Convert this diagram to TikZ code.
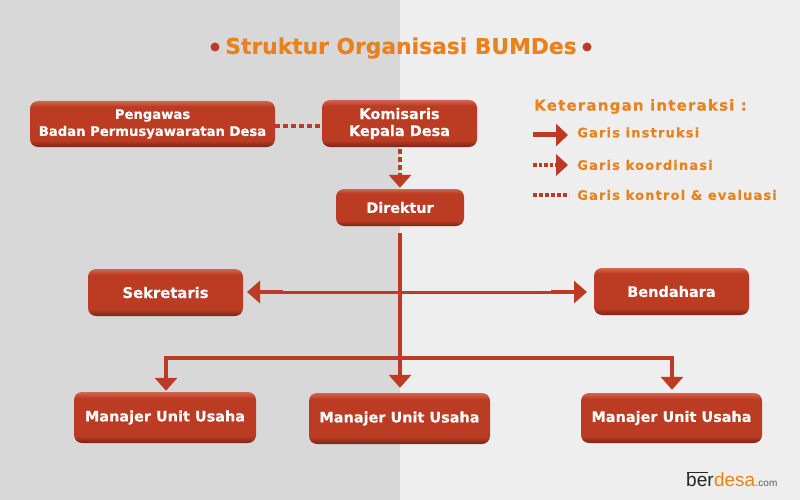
\documentclass[tikz,border=0pt]{standalone}
\usepackage{fontspec}
\setmainfont{DejaVu Sans}[BoldFont={DejaVu Sans Bold},BoldFeatures={FakeBold=0.3}]
\newfontfamily\logofont{Liberation Sans}
\usetikzlibrary{arrows.meta}
\definecolor{bgL}{HTML}{D8D8D8}
\definecolor{bgR}{HTML}{EEEEEE}
\definecolor{boxred}{HTML}{BC3B23}
\definecolor{boxlight}{HTML}{D2664E}
\definecolor{boxdark}{HTML}{762618}
\definecolor{orangeT}{HTML}{E8821E}
\definecolor{lineC}{HTML}{BD3B24}
\pgfdeclareverticalshading{boxshade}{100bp}{
  color(0bp)=(boxdark); color(25bp)=(boxdark); color(32bp)=(boxred);
  color(69bp)=(boxred); color(75bp)=(boxlight); color(100bp)=(boxlight)}
\newcommand\lowtext[1]{\raisebox{-1.5pt}{#1}}
\tikzset{
  x=1pt,y=-1pt,
  orgbox/.style={rounded corners=8pt,shading=boxshade,text=white,font=\bfseries\fontsize{#1}{17}\selectfont,align=center,inner sep=0pt},
  orgbox/.default=14,
  solidline/.style={draw=lineC,line width=4pt},
  thinline/.style={draw=lineC,line width=3pt},
  dotline/.style={draw=lineC,line width=4.5pt,dash pattern=on 5pt off 3pt},
  headtip/.style={-{Triangle[width=22pt,length=13pt,fill=lineC]}},
  legendtext/.style={anchor=west,text=orangeT,font=\bfseries\fontsize{13}{15}\selectfont\addfontfeature{LetterSpace=9},inner sep=0pt},
  dotmark/.style={circle,fill=lineC,inner sep=0pt,minimum size=9pt}
}
\begin{document}
\begin{tikzpicture}
\useasboundingbox (0,0) rectangle (800,500);
\fill[bgL] (0,0) rectangle (400,500);
\fill[bgR] (400,0) rectangle (800,500);
% title
\node[text=orangeT,font=\bfseries\fontsize{21.8}{24}\selectfont,inner sep=0pt] (title) at (401,48) {Struktur Organisasi BUMDes};
\node[dotmark] (dl) at (215,47) {};
\node[dotmark] (dr) at (587,47) {};
% boxes
\node[orgbox=13.2,minimum width=245pt,minimum height=46pt] (peng) at (152.5,124) {Pengawas\hspace{3pt}\\Badan Permusyawaratan Desa\hspace{4pt}};
\node[orgbox=14.5,minimum width=155pt,minimum height=47pt] (kom) at (399.5,123.5) {Komisaris\\Kepala Desa};
\node[orgbox=14.3,minimum width=128pt,minimum height=37pt] (dir) at (400,207.5) {\lowtext{Direktur}};
\node[orgbox=14.8,minimum width=155pt,minimum height=47pt] (sek) at (165.5,292.5) {Sekretaris};
\node[orgbox=14.5,minimum width=155pt,minimum height=47pt] (ben) at (671.5,291.5) {Bendahara};
\node[orgbox=14.45,minimum width=182pt,minimum height=51pt] (m1) at (165,417.5) {\lowtext{Manajer Unit Usaha}};
\node[orgbox=14.45,minimum width=181pt,minimum height=51pt] (m2) at (399.5,418.5) {\lowtext{Manajer Unit Usaha}};
\node[orgbox=14.45,minimum width=181pt,minimum height=50pt] (m3) at (671.5,418) {\lowtext{Manajer Unit Usaha}};
% connectors
\draw[dotline] (peng.east |- 0,126) -- (kom.west |- 0,126);
\coordinate (koma) at (400,149);
\coordinate (kombar) at (400,176);
\draw[dotline] (koma) -- (kombar);
\draw[solidline,headtip,shorten >=1pt] (kombar) -- (kombar |- dir.north);
\coordinate (stem) at (400,233);
\coordinate (low) at (400,358);
\draw[solidline,headtip,shorten >=5pt] (stem) -- (stem |- m2.north);
\coordinate (sekt) at (247,292);
\coordinate (bent) at (587,292);
\coordinate (sekb) at (283,292);
\coordinate (benb) at (551,292);
\draw[thinline] (sekb) -- (benb);
\draw[draw=lineC,line width=4.5pt,headtip] (sekb) -- (sekt);
\draw[draw=lineC,line width=4.5pt,headtip] (benb) -- (bent);
\coordinate (l1) at (166,358);
\coordinate (l3) at (672,358);
\draw[solidline,headtip,shorten >=1pt] (low) -- (l1) -- (l1 |- m1.north);
\draw[solidline,headtip,shorten >=3pt] (low) -- (l3) -- (l3 |- m3.north);
% legend
\node[anchor=west,text=orangeT,font=\bfseries\fontsize{15}{17}\selectfont\addfontfeature{LetterSpace=8},inner sep=0pt] (leg) at (534,106.5) {Keterangan interaksi :};
\node[legendtext] (g1) at (577,132.5) {Garis instruksi};
\node[legendtext] (g2) at (577,165) {Garis koordinasi};
\node[legendtext] (g3) at (577,195) {Garis kontrol \& evaluasi};
\coordinate (a1s) at (533,135);
\coordinate (a1e) at (568,135);
\draw[solidline,-{Triangle[width=22pt,length=12pt,fill=lineC]},line width=5pt] (a1s) -- (a1e);
\coordinate (a2s) at (533,165);
\coordinate (a2m) at (557,165);
\coordinate (a2e) at (568,165);
\draw[dotline,line width=4pt,dash pattern=on 3.5pt off 2pt] (a2s) -- (a2m);
\fill[lineC] (a2e) -- (556,154) -- (556,176) -- cycle;
\coordinate (a3s) at (533,195);
\coordinate (a3e) at (569,195);
\draw[dotline,line width=4pt,dash pattern=on 4pt off 2pt] (a3s) -- (a3e);
% logo
\node[anchor=base west,inner sep=0pt,font=\logofont\fontsize{19}{20}\selectfont,text=black!85] (lb) at (686,486) {ber};
\node[anchor=base west,inner sep=0pt,font=\logofont\fontsize{19}{20}\selectfont,text=orangeT] (ld) at (lb.base east) {desa};
\node[anchor=base west,inner sep=0pt,font=\logofont\fontsize{10}{12}\selectfont,text=black!65] (lc) at (ld.base east) {.com};
\draw[black!85,line width=1pt] (687,472.5) -- (708,472.5);
\end{tikzpicture}
\end{document}
